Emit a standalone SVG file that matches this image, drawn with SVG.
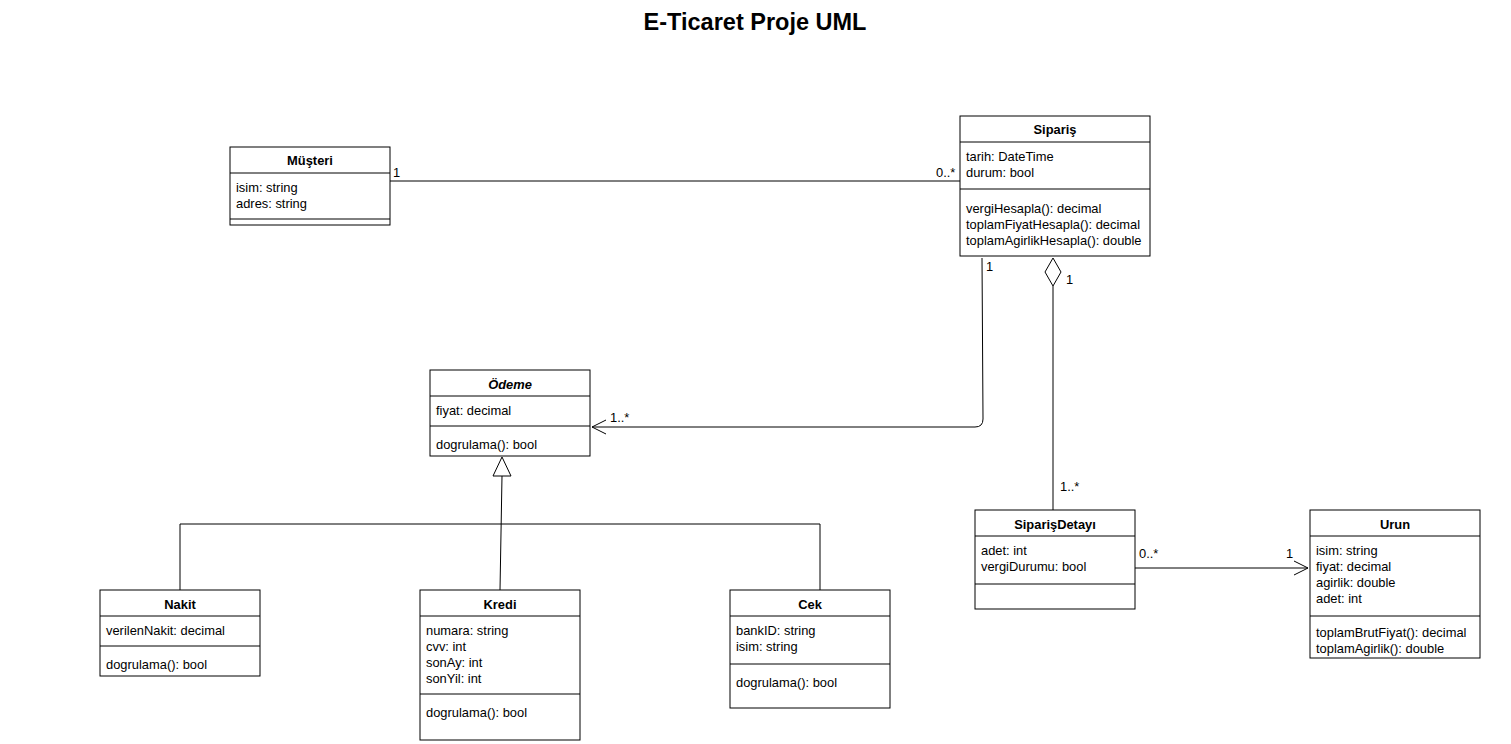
<svg xmlns="http://www.w3.org/2000/svg" width="1511" height="744" viewBox="0 0 1511 744">
<style>
.box{fill:#fff;stroke:#000;stroke-width:1}
.ln{fill:none;stroke:#000;stroke-width:1}
text{font-family:"Liberation Sans",Arial,sans-serif;font-size:12.9px;fill:#000}
.t{font-weight:bold;text-anchor:middle}
</style>
<defs>
<marker id="open" markerWidth="16" markerHeight="16" refX="15" refY="8" orient="auto" markerUnits="userSpaceOnUse">
<path d="M1,1 L15,8 L1,15" fill="none" stroke="#000" stroke-width="1"/>
</marker>
</defs>
<rect width="1511" height="744" fill="#fff"/>
<text x="755" y="30" style="font-size:23.5px;font-weight:bold;text-anchor:middle">E-Ticaret Proje UML</text>

<g id="connectors">
<path class="ln" d="M390,181 L960,181"/>
<text x="393" y="177">1</text>
<text x="936" y="177">0..*</text>

<path class="ln" d="M982,258 L983,419 Q983,427 975,427 L592,427" marker-end="url(#open)"/>
<text x="986" y="271">1</text>
<text x="610" y="422">1..*</text>

<path class="ln" d="M1053,286 L1053,510"/>
<path class="box" d="M1053,258 L1061,272 L1053,286 L1045,272 Z"/>
<text x="1066" y="284">1</text>
<text x="1060" y="491">1..*</text>

<path class="ln" d="M180,590 L180,524 L820,524 L820,590"/>
<path class="ln" d="M500,590 L502,476"/>
<path class="box" d="M502,457 L511,476 L493,476 Z"/>

<path class="ln" d="M1135,568 L1308,568" marker-end="url(#open)"/>
<text x="1139" y="558">0..*</text>
<text x="1286" y="558">1</text>
</g>

<g id="musteri">
<rect class="box" x="230" y="147" width="160" height="78"/>
<path class="ln" d="M230,173 L390,173 M230,219 L390,219"/>
<text class="t" x="310" y="165">Müşteri</text>
<text x="236" y="192">isim: string</text>
<text x="236" y="208">adres: string</text>
</g>

<g id="siparis">
<rect class="box" x="960" y="116" width="190" height="140"/>
<path class="ln" d="M960,142 L1150,142 M960,189 L1150,189"/>
<text class="t" x="1055" y="134">Sipariş</text>
<text x="966" y="161">tarih: DateTime</text>
<text x="966" y="177">durum: bool</text>
<text x="966" y="213">vergiHesapla(): decimal</text>
<text x="966" y="229">toplamFiyatHesapla(): decimal</text>
<text x="966" y="245">toplamAgirlikHesapla(): double</text>
</g>

<g id="odeme">
<rect class="box" x="430" y="370" width="160" height="86"/>
<path class="ln" d="M430,396 L590,396 M430,426 L590,426"/>
<text class="t" x="510" y="389" style="font-style:italic">Ödeme</text>
<text x="436" y="415">fiyat: decimal</text>
<text x="436" y="449">dogrulama(): bool</text>
</g>

<g id="nakit">
<rect class="box" x="100" y="590" width="160" height="86"/>
<path class="ln" d="M100,616 L260,616 M100,646 L260,646"/>
<text class="t" x="180" y="609">Nakit</text>
<text x="106" y="635">verilenNakit: decimal</text>
<text x="106" y="669">dogrulama(): bool</text>
</g>

<g id="kredi">
<rect class="box" x="420" y="590" width="160" height="150"/>
<path class="ln" d="M420,616 L580,616 M420,694 L580,694"/>
<text class="t" x="500" y="609">Kredi</text>
<text x="426" y="635">numara: string</text>
<text x="426" y="651">cvv: int</text>
<text x="426" y="667">sonAy: int</text>
<text x="426" y="683">sonYil: int</text>
<text x="426" y="717">dogrulama(): bool</text>
</g>

<g id="cek">
<rect class="box" x="730" y="590" width="160" height="118"/>
<path class="ln" d="M730,616 L890,616 M730,664 L890,664"/>
<text class="t" x="810" y="609">Cek</text>
<text x="736" y="635">bankID: string</text>
<text x="736" y="651">isim: string</text>
<text x="736" y="687">dogrulama(): bool</text>
</g>

<g id="siparisdetayi">
<rect class="box" x="975" y="510" width="160" height="99"/>
<path class="ln" d="M975,536 L1135,536 M975,584 L1135,584"/>
<text class="t" x="1055" y="529">SiparişDetayı</text>
<text x="981" y="555">adet: int</text>
<text x="981" y="571">vergiDurumu: bool</text>
</g>

<g id="urun">
<rect class="box" x="1310" y="510" width="170" height="148"/>
<path class="ln" d="M1310,536 L1480,536 M1310,616 L1480,616"/>
<text class="t" x="1395" y="529">Urun</text>
<text x="1316" y="555">isim: string</text>
<text x="1316" y="571">fiyat: decimal</text>
<text x="1316" y="587">agirlik: double</text>
<text x="1316" y="603">adet: int</text>
<text x="1316" y="637">toplamBrutFiyat(): decimal</text>
<text x="1316" y="653">toplamAgirlik(): double</text>
</g>
</svg>
